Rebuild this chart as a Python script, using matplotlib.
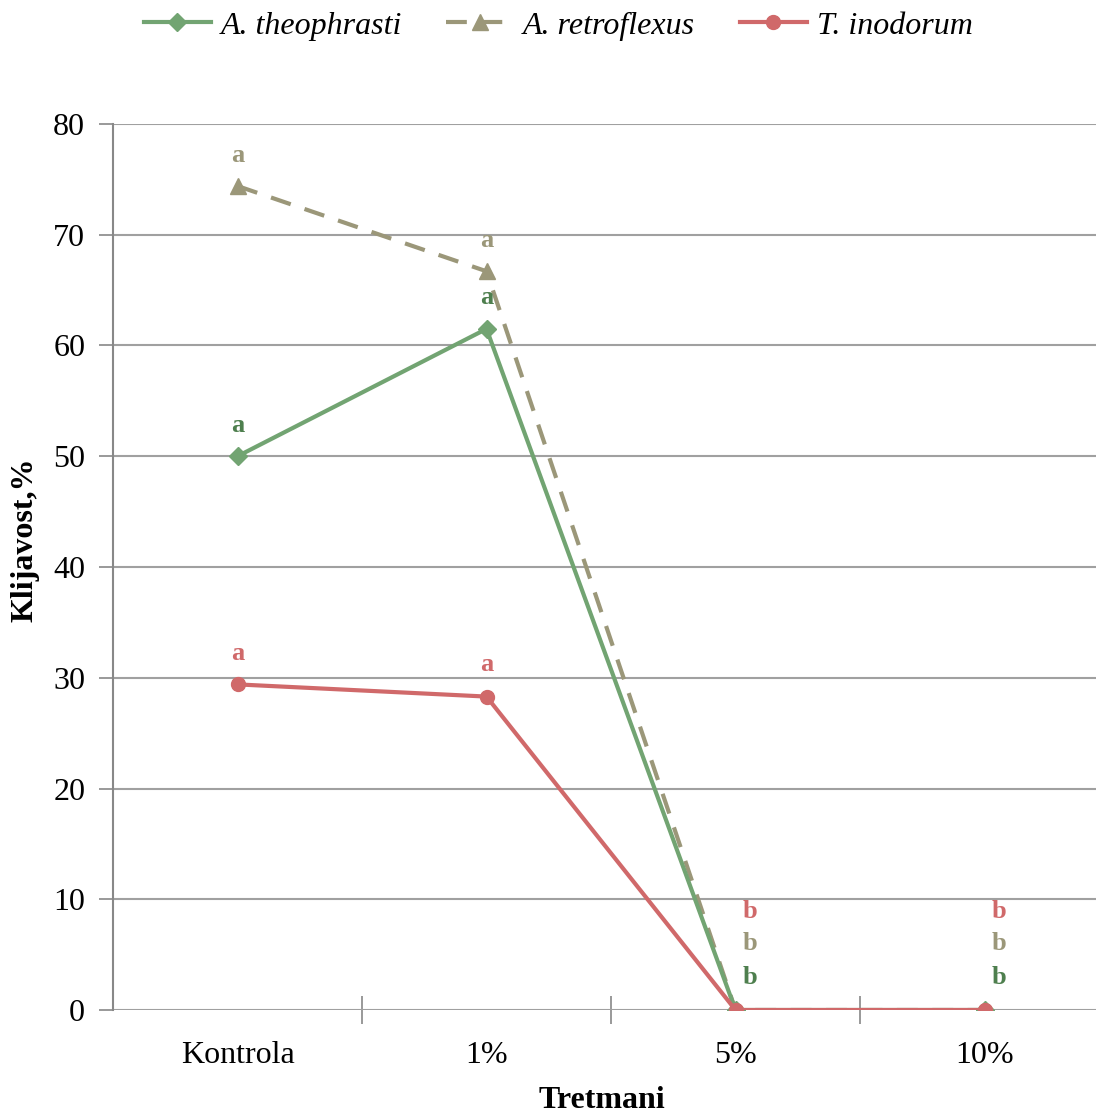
import matplotlib.pyplot as plt
from matplotlib.lines import Line2D

categories = ["Kontrola", "1%", "5%", "10%"]
theophrasti = [50.0, 61.5, 0.0, 0.0]
retroflexus = [74.4, 66.7, 0.0, 0.0]
inodorum = [29.4, 28.3, 0.0, 0.0]

# significance letters: (category index, y, letter)
letters_theo = [(0, 52.8, "a"), (1, 64.3, "a"), (2, 2.9, "b"), (3, 2.9, "b")]
letters_retro = [(0, 77.2, "a"), (1, 69.5, "a"), (2, 6.0, "b"), (3, 6.0, "b")]
letters_ino = [(0, 32.2, "a"), (1, 31.2, "a"), (2, 8.9, "b"), (3, 8.9, "b")]

c_theo, c_retro, c_ino = "#72a472", "#9b9779", "#d0696a"
t_theo, t_retro, t_ino = "#4e7f4e", "#9b9779", "#d0696a"

plt.rcParams["font.family"] = ["Liberation Serif", "DejaVu Serif"]

fig = plt.figure(figsize=(10.96, 11.13), dpi=100)
ax = fig.add_axes([113 / 1096, 103 / 1113, 1 - 113 / 1096, 886 / 1113])

x = list(range(len(categories)))
ax.plot(x, retroflexus, color=c_retro, lw=3, ls=(0, (5, 3.5)), marker="^", ms=11, zorder=3)
ax.plot(x, theophrasti, color=c_theo, lw=3, marker="D", ms=9, zorder=4)
ax.plot(x, inodorum, color=c_ino, lw=3, marker="o", ms=10, zorder=5)

for items, col in [(letters_theo, t_theo), (letters_retro, t_retro), (letters_ino, t_ino)]:
    for i, y, s in items:
        dx = 0.06 if i >= 2 else 0.0
        ax.text(i + dx, y, s, color=col, fontsize=19, fontweight="bold",
                ha="center", va="center")

ax.set_xlim(-0.5, -0.5 + (1096 - 113) / 249)
ax.set_ylim(0, 80)
ax.set_yticks(range(0, 81, 10))
ax.set_xticks(x)
ax.set_xticklabels(categories)
ax.set_xticks([0.5, 1.5, 2.5], minor=True)
ax.tick_params(axis="x", which="major", length=0, labelsize=23, pad=22)
ax.tick_params(axis="x", which="minor", length=20, direction="inout", color="#888888", width=1.2)
ax.tick_params(axis="y", length=10, color="#888888", width=1.2, labelsize=23, pad=10)

ax.grid(axis="y", color="#a0a0a0", lw=1.5)
ax.set_axisbelow(True)
for s in ["top", "right", "bottom"]:
    ax.spines[s].set_visible(False)
ax.spines["left"].set_color("#888888")
ax.spines["left"].set_linewidth(1.5)

ax.set_xlabel("Tretmani", fontsize=23, fontweight="bold")
ax.xaxis.set_label_coords((602 - 113) / 983, -(1100 - 1010) / 886)
ax.xaxis.label.set_va("center")
ax.set_ylabel("Klijavost,%", fontsize=23, fontweight="bold")
ax.yaxis.set_label_coords((25 - 113) / 983, (1010 - 540) / 886)
ax.yaxis.label.set_va("center")

handles = [
    Line2D([], [], color=c_theo, lw=3, marker="D", ms=9),
    Line2D([], [], color=c_retro, lw=3, ls=(0, (5, 3.5)), marker="^", ms=11),
    Line2D([], [], color=c_ino, lw=3, marker="o", ms=10),
]
fig.legend(handles, ["A. theophrasti", "A. retroflexus", "T. inodorum"],
           loc="center", bbox_to_anchor=(558 / 1096, 1 - 26 / 1113), ncol=3,
           frameon=False, prop={"style": "italic", "size": 23},
           handlelength=2.1, columnspacing=1.4, handletextpad=0.3)

fig.savefig("out.png", dpi=100)
